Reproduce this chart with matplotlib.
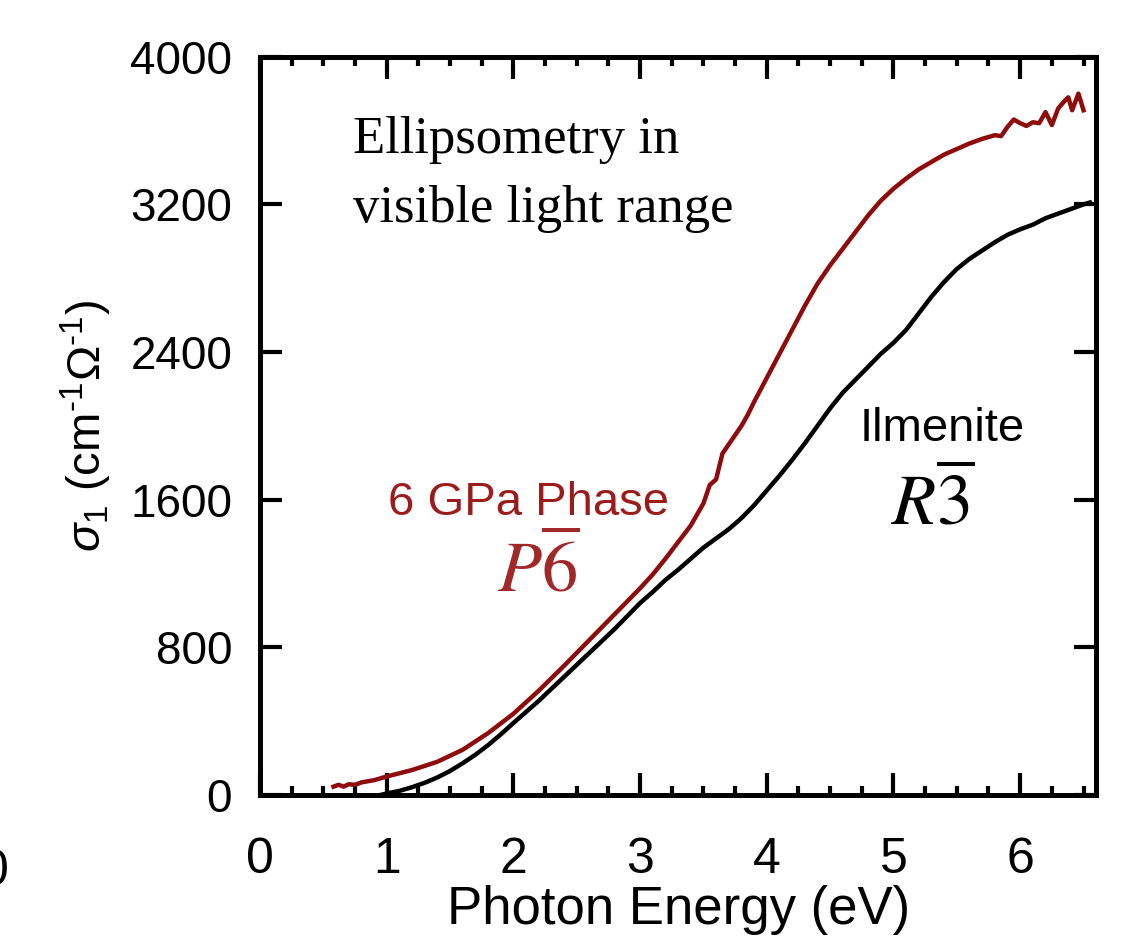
import numpy as np
import matplotlib
matplotlib.use("Agg")
import matplotlib.pyplot as plt
from matplotlib.ticker import MultipleLocator

plt.rcParams['font.family'] = ['Liberation Sans', 'DejaVu Sans']
plt.rcParams['mathtext.fontset'] = 'custom'
plt.rcParams['mathtext.rm'] = 'Liberation Sans'
plt.rcParams['mathtext.it'] = 'Liberation Sans:italic'

# 6 GPa phase (P-6)
e_6gpa = [0.58, 0.62, 0.66, 0.70, 0.75, 0.80, 0.90, 1.00, 1.20, 1.40, 1.60, 1.80,
          2.00, 2.20, 2.40, 2.60, 2.80, 3.00, 3.10, 3.20, 3.30, 3.40, 3.50, 3.55,
          3.60, 3.65, 3.70, 3.80, 3.85, 3.90, 4.00, 4.10, 4.20, 4.30, 4.40, 4.50,
          4.60, 4.70, 4.80, 4.90, 5.00, 5.10, 5.20, 5.30, 5.40, 5.50, 5.60, 5.70,
          5.80, 5.85, 5.90, 5.95, 6.00, 6.05, 6.10, 6.15, 6.20, 6.25, 6.30, 6.35,
          6.38, 6.41, 6.46, 6.50]
s_6gpa = [45, 55, 45, 58, 55, 68, 80, 100, 135, 180, 245, 335,
          440, 565, 700, 840, 980, 1120, 1195, 1280, 1370, 1460, 1580, 1680,
          1710, 1850, 1900, 2000, 2060, 2130, 2260, 2390, 2520, 2650, 2770, 2870,
          2960, 3050, 3140, 3220, 3285, 3340, 3390, 3430, 3470, 3500, 3530, 3555,
          3575, 3570, 3620, 3660, 3640, 3625, 3645, 3640, 3700, 3630, 3720, 3760,
          3780, 3710, 3800, 3710]

# Ilmenite (R-3)
e_ilm = [0.95, 1.00, 1.10, 1.20, 1.30, 1.40, 1.50, 1.60, 1.70, 1.80, 1.90, 2.00,
         2.20, 2.40, 2.60, 2.80, 3.00, 3.10, 3.20, 3.30, 3.40, 3.50, 3.60, 3.70,
         3.80, 3.90, 4.00, 4.10, 4.20, 4.30, 4.40, 4.50, 4.60, 4.70, 4.80, 4.90,
         5.00, 5.10, 5.20, 5.30, 5.40, 5.50, 5.60, 5.70, 5.80, 5.90, 6.00, 6.10,
         6.20, 6.30, 6.40, 6.50, 6.55]
s_ilm = [0, 8, 22, 42, 66, 95, 130, 172, 218, 270, 328, 390,
         510, 640, 770, 900, 1040, 1100, 1165, 1220, 1280, 1340, 1390, 1440,
         1500, 1570, 1650, 1730, 1815, 1905, 2000, 2095, 2180, 2250, 2320, 2390,
         2450, 2520, 2610, 2700, 2780, 2850, 2905, 2950, 2995, 3035, 3065, 3090,
         3125, 3150, 3175, 3200, 3210]

red_line = '#8e0c0c'
red_text = '#9c1c1c'

fig = plt.figure(figsize=(11.33, 9.38), dpi=100)
ax = fig.add_axes([0.2295, 0.1525, 0.738, 0.787])

ax.plot(e_ilm, s_ilm, color='black', lw=3.2)
ax.plot(e_6gpa, s_6gpa, color=red_line, lw=3.2)

ax.set_xlim(0, 6.6)
ax.set_ylim(0, 4000)
ax.xaxis.set_major_locator(MultipleLocator(1))
ax.xaxis.set_minor_locator(MultipleLocator(0.25))
ax.yaxis.set_major_locator(MultipleLocator(800))

for s in ax.spines.values():
    s.set_linewidth(3.6)
ax.tick_params(which='both', direction='in', top=True, right=True, width=3)
ax.tick_params(which='major', length=16)
ax.tick_params(which='minor', length=6.5)
ax.tick_params(axis='x', which='major', labelsize=36, pad=30)
ax.tick_params(axis='y', which='major', labelsize=33, pad=20)

ax.set_xlabel('Photon Energy (eV)', fontsize=38, labelpad=2)
ax.set_ylabel(r'$\sigma_1$ (cm$^{\text{-}1}\Omega^{\text{-}1}$)', fontsize=34)
ax.yaxis.set_label_coords(-0.175, 0.5)

serif = ['Liberation Serif', 'DejaVu Serif']
ax.text(0.73, 3480, 'Ellipsometry in', fontsize=38, family=serif, va='baseline')
ax.text(0.73, 3106, 'visible light range', fontsize=38, family=serif, va='baseline')

ax.text(1.01, 1518, '6 GPa Phase', fontsize=34, color=red_text, va='baseline')
ax.text(1.87, 1100, r'$P\overline{6}$', fontsize=52, color='#a02828',
        va='baseline', math_fontfamily='stix')

ax.text(4.73, 1920, 'Ilmenite', fontsize=34, color='black', va='baseline')
ax.text(4.98, 1463, r'$R\overline{3}$', fontsize=52, color='black',
        va='baseline', math_fontfamily='stix')

# cut-off label from a neighbouring panel
fig.text(-0.0045, 0.070, '0', fontsize=36, ha='center', va='center')

fig.savefig('out.png', dpi=100)
